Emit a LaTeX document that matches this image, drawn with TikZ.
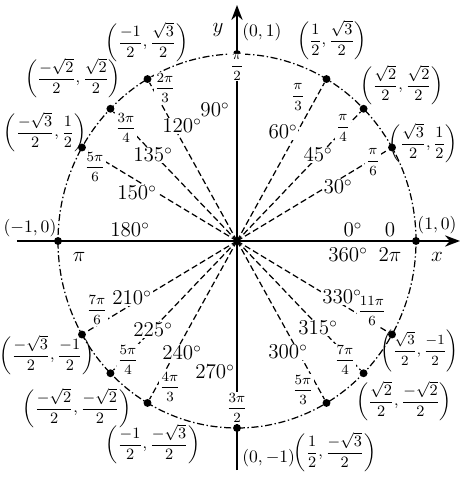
\documentclass[tikz,border=0pt]{standalone}
\usepackage{amsmath}
\usepackage{tikz}
\usetikzlibrary{arrows.meta, positioning}

\begin{document}
\begin{tikzpicture}[
    x=0.02cm, y=0.02cm,
    pt/.style={circle, fill, inner sep=0pt, minimum size=4.5pt},
    ray/.style={line width=0.7pt, dash pattern=on 3.5pt off 1.8pt},
    rim/.style={line width=0.7pt, dash pattern=on 4pt off 1.5pt on 0.8pt off 1.5pt},
    axis/.style={line width=1.1pt, -{Stealth[length=3mm]}},
    deg/.style={font=\large, fill=white, inner sep=0.5pt},
    rad/.style={font=\footnotesize, fill=white, inner sep=0.5pt},
    pair/.style={font=\small, inner sep=0pt}
]
\useasboundingbox (-237,-248) rectangle (223,241);

% Axes
\coordinate (O) at (0,0);
\coordinate (xl) at (-220,0);
\coordinate (xr) at (223,0);
\coordinate (yb) at (0,-229);
\coordinate (yt) at (0,236);
\draw[axis] (xl) -- (xr);
\draw[axis] (yb) -- (yt);

% Unit circle and its points
\draw[rim] (O) ellipse (179 and 187);
\foreach \a in {0,30,45,60,90,120,135,150,180,210,225,240,270,300,315,330}
    \node[pt] (p\a) at (\a:179 and 187) {};

% Rays to the points
\foreach \a in {30,45,60,120,135,150,210,225,240,300,315,330}
    \draw[ray] (O) -- (p\a);

% Degrees
\node[deg] (d90) at (-22,131) {90$^\circ$};
\node[deg] (d60) at (46,109) {60$^\circ$};
\node[deg] (d45) at (81,86) {45$^\circ$};
\node[deg] (d30) at (101,54) {30$^\circ$};
\node[deg] (d120) at (-55,115) {120$^\circ$};
\node[deg] (d135) at (-84,86) {135$^\circ$};
\node[deg] (d150) at (-100,48) {150$^\circ$};
\node[deg] (d180) at (-107,11) {180$^\circ$};
\node[deg] (d0) at (116,11) {0$^\circ$};
\node[deg] (d360) at (111,-14) {360$^\circ$};
\node[deg] (d210) at (-105,-57) {210$^\circ$};
\node[deg] (d225) at (-84,-89) {225$^\circ$};
\node[deg] (d240) at (-55,-112) {240$^\circ$};
\node[deg] (d270) at (-22,-131) {270$^\circ$};
\node[deg] (d300) at (51,-111) {300$^\circ$};
\node[deg] (d315) at (81,-87) {315$^\circ$};
\node[deg] (d330) at (105,-56) {330$^\circ$};

% Radians
\node[rad] (r90) at (0,174) {$\dfrac{\pi}{2}$};
\node[rad] (r60) at (61,144) {$\dfrac{\pi}{3}$};
\node[rad] (r45) at (106,113) {$\dfrac{\pi}{4}$};
\node[rad] (r30) at (136,79) {$\dfrac{\pi}{6}$};
\node[rad] (r120) at (-72,153) {$\dfrac{2\pi}{3}$};
\node[rad] (r135) at (-111,113) {$\dfrac{3\pi}{4}$};
\node[rad] (r150) at (-142,74) {$\dfrac{5\pi}{6}$};
\node[rad] (r210) at (-140,-69) {$\dfrac{7\pi}{6}$};
\node[rad] (r225) at (-109,-119) {$\dfrac{5\pi}{4}$};
\node[rad] (r240) at (-67,-146) {$\dfrac{4\pi}{3}$};
\node[rad] (r270) at (0,-167) {$\dfrac{3\pi}{2}$};
\node[rad] (r300) at (66,-149) {$\dfrac{5\pi}{3}$};
\node[rad] (r315) at (108,-119) {$\dfrac{7\pi}{4}$};
\node[rad] (r330) at (135,-70) {$\dfrac{11\pi}{6}$};
\node[font=\large] (r180) at (-158,-16) {$\pi$};
\node[font=\large] (r0) at (153,11) {$0$};
\node[font=\large] (r360) at (153,-14) {$2\pi$};

% Axis names
\node[font=\large] (ylab) at (-19,211) {$y$};
\node[font=\large] (xlab) at (200,-16) {$x$};

% Coordinates
\node[pair, font=\normalsize, anchor=west] (c90) at (5,209) {$(0,1)$};
\node[pair, font=\normalsize, anchor=west] (c270) at (5,-217) {$(0,-1)$};
\node[pair, font=\normalsize] (c0) at (200,16) {$(1,0)$};
\node[pair, font=\normalsize] (c180) at (-207,13) {$(-1,0)$};
\node[pair] (c60) at (95,201) {$\left(\dfrac{1}{2},\dfrac{\sqrt{3}}{2}\right)$};
\node[pair] (c45) at (165,156) {$\left(\dfrac{\sqrt{2}}{2},\dfrac{\sqrt{2}}{2}\right)$};
\node[pair, anchor=east] (c30) at (221,98) {$\left(\dfrac{\sqrt{3}}{2},\dfrac{1}{2}\right)$};
\node[pair] (c120) at (-90,199) {$\left(\dfrac{-1}{2},\dfrac{\sqrt{3}}{2}\right)$};
\node[pair] (c135) at (-164,163) {$\left(\dfrac{-\sqrt{2}}{2},\dfrac{\sqrt{2}}{2}\right)$};
\node[pair] (c150) at (-192,109) {$\left(\dfrac{-\sqrt{3}}{2},\dfrac{1}{2}\right)$};
\node[pair] (c210) at (-190,-114) {$\left(\dfrac{-\sqrt{3}}{2},\dfrac{-1}{2}\right)$};
\node[pair] (c225) at (-160,-167) {$\left(\dfrac{-\sqrt{2}}{2},\dfrac{-\sqrt{2}}{2}\right)$};
\node[pair] (c240) at (-84,-203) {$\left(\dfrac{-1}{2},\dfrac{-\sqrt{3}}{2}\right)$};
\node[pair] (c300) at (98,-211) {$\left(\dfrac{1}{2},\dfrac{-\sqrt{3}}{2}\right)$};
\node[pair] (c315) at (167,-160) {$\left(\dfrac{\sqrt{2}}{2},\dfrac{-\sqrt{2}}{2}\right)$};
\node[pair, font=\footnotesize, anchor=east] (c330) at (222,-110) {$\left(\dfrac{\sqrt{3}}{2},\dfrac{-1}{2}\right)$};

\end{tikzpicture}
\end{document}
